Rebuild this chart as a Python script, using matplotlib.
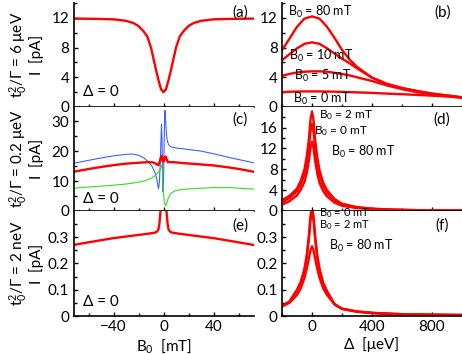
import matplotlib
matplotlib.use("Agg")
import matplotlib.pyplot as plt
from matplotlib.ticker import MultipleLocator

plt.rcParams["font.family"] = ["Lato", "DejaVu Sans"]
plt.rcParams["mathtext.fontset"] = "custom"
plt.rcParams["mathtext.rm"] = "Lato"
plt.rcParams["mathtext.it"] = "Lato"
plt.rcParams["font.size"] = 11

RED = "#ff0000"
BLUE = "#4060ff"
GREEN = "#33dd22"

# ---- left column: I vs B0 [mT], Delta = 0 ----
b_a = [-72, -60, -50, -40, -30, -24, -20, -16, -13, -10, -8, -6, -4, -2, 0,
       2, 4, 6, 8, 10, 13, 16, 20, 24, 30, 40, 50, 60, 72]
i_a = [11.9, 11.88, 11.85, 11.8, 11.6, 11.3, 10.9, 10.2, 9.5, 8.0, 6.5, 5.0, 3.6, 2.4, 2.0,
       2.4, 3.6, 5.0, 6.5, 8.0, 9.5, 10.2, 10.9, 11.3, 11.6, 11.8, 11.85, 11.88, 11.9]

b_c_blue = [-72, -60, -50, -40, -30, -25, -20, -16, -12, -9, -7, -5.5, -4.5, -4, -3.3, -2.6, -2,
            -1.6, -1.2, -0.8, -0.4, 0, 0.4, 0.8, 1.2, 1.7, 2.3, 3, 4, 5.5, 7, 10, 15, 20, 30,
            40, 53, 62, 72]
i_c_blue = [15.9, 16.9, 17.7, 18.4, 18.9, 19.0, 18.6, 17.8, 16.4, 14.8, 13.0, 11.0, 8.5, 7.4, 9.5,
            16, 24, 29.0, 24, 12, 6.5, 9, 20, 29, 33.5, 30, 26, 23.5, 22.2, 21.5, 21.3, 21.0,
            20.8, 20.5, 20.0, 19.1, 17.8, 17.0, 16.1]

b_c_red = [-72, -60, -50, -40, -30, -20, -12, -8, -5, -4, -3, -2, -1.5, -1, -0.5, 0, 0.5, 1,
           1.7, 2.5, 3.5, 5, 8, 15, 25, 40, 53, 62, 72]
i_c_red = [13.1, 14.0, 14.7, 15.3, 15.8, 16.1, 16.3, 16.2, 15.5, 15.3, 16.5, 18.0, 18.4, 17.8,
           16.8, 16.5, 17.0, 17.8, 18.2, 17.3, 16.3, 16.3, 16.3, 16.0, 15.7, 15.2, 14.5, 13.9, 13.1]

b_c_green = [-72, -60, -50, -40, -30, -20, -15, -10, -7, -5, -3.5, -2.5, -1.8, -1.2, -0.8, -0.4,
             0, 0.5, 1, 1.5, 2, 3, 4, 6, 9, 15, 25, 40, 53, 72]
i_c_green = [7.6, 8.0, 8.3, 8.6, 9.0, 9.6, 10.1, 10.9, 11.7, 12.5, 13.4, 14.2, 15.0, 15.3, 13, 9,
             6, 3.5, 2.3, 1.9, 1.9, 3.2, 4.5, 5.9, 6.7, 7.2, 7.5, 7.8, 7.8, 7.3]

b_e = [-72, -60, -50, -40, -30, -20, -12, -8, -6, -5, -4, -3.3, -2.7, -2, -1, 0,
       1, 2, 2.7, 3.3, 4, 5, 6, 8, 12, 20, 30, 40, 50, 60, 72]
i_e = [0.270, 0.280, 0.288, 0.296, 0.302, 0.308, 0.313, 0.316, 0.318, 0.322, 0.330, 0.350,
       0.380, 0.420, 0.460, 0.480, 0.460, 0.420, 0.380, 0.350, 0.330, 0.322, 0.318, 0.316,
       0.313, 0.308, 0.302, 0.296, 0.288, 0.280, 0.270]

# ---- right column: I vs Delta [ueV] ----
d_b = [-200, -150, -100, -50, 0, 50, 100, 150, 200, 250, 300, 400, 500, 600, 700, 800, 900, 1000]
i_b_80 = [7.65, 9.2, 10.8, 11.9, 12.2, 11.9, 10.8, 9.3, 7.7, 6.4, 5.4, 3.95, 3.1, 2.55, 2.15, 1.8, 1.55, 1.3]
i_b_10 = [6.3, 7.1, 7.9, 8.5, 8.7, 8.5, 7.9, 7.2, 6.5, 5.9, 5.2, 3.95, 3.1, 2.55, 2.15, 1.8, 1.55, 1.3]
i_b_5 = [4.2, 4.45, 4.65, 4.75, 4.8, 4.8, 4.75, 4.6, 4.45, 4.25, 4.0, 3.5, 2.9, 2.4, 2.0, 1.7, 1.45, 1.25]
i_b_0 = [2.0, 2.05, 2.08, 2.1, 2.1, 2.1, 2.08, 2.06, 2.03, 2.0, 1.97, 1.9, 1.8, 1.72, 1.63, 1.53, 1.42, 1.28]

d_df = [-200, -150, -100, -75, -50, -35, -20, -10, 0, 10, 20, 35, 50, 75, 100, 150, 200,
        300, 400, 500, 600, 800, 1000]
i_d_2 = [2.1, 2.9, 4.3, 5.8, 8.0, 10.5, 14.0, 17.5, 19.1, 17.5, 14.0, 10.3, 7.8, 5.4, 4.0, 2.3,
         1.4, 0.75, 0.45, 0.3, 0.22, 0.12, 0.08]
i_d_0 = [1.7, 2.5, 3.8, 5.1, 7.0, 9.2, 12.3, 15.3, 16.7, 15.3, 12.3, 9.0, 6.8, 4.7, 3.5, 2.0,
         1.25, 0.68, 0.42, 0.28, 0.2, 0.12, 0.08]
i_d_80 = [1.2, 1.9, 3.0, 4.1, 5.6, 7.3, 9.8, 12.2, 13.3, 12.2, 9.8, 7.2, 5.4, 3.8, 2.8, 1.6,
          1.0, 0.55, 0.35, 0.25, 0.18, 0.1, 0.07]

i_f_0 = [0.039, 0.055, 0.1, 0.13, 0.18, 0.23, 0.31, 0.38, 0.415, 0.38, 0.31, 0.23, 0.18, 0.125,
         0.095, 0.045, 0.028, 0.017, 0.012, 0.009, 0.007, 0.005, 0.004]
i_f_2 = [0.038, 0.054, 0.097, 0.126, 0.174, 0.222, 0.298, 0.366, 0.40, 0.366, 0.298, 0.222,
         0.174, 0.121, 0.092, 0.044, 0.027, 0.017, 0.012, 0.009, 0.007, 0.005, 0.004]
i_f_80 = [0.036, 0.05, 0.08, 0.105, 0.145, 0.18, 0.22, 0.25, 0.265, 0.25, 0.22, 0.18, 0.145,
          0.105, 0.08, 0.045, 0.027, 0.016, 0.011, 0.008, 0.006, 0.004, 0.003]

fig = plt.figure(figsize=(4.62, 3.54), dpi=100)
W, H = 462.0, 354.0
rows = [(3, 107), (107, 211), (211, 316)]
cols = [(73.5, 253.5), (282, 462)]
axes = {}
for r, (yt, yb) in enumerate(rows):
    for c, (xl, xr) in enumerate(cols):
        axes[(r, c)] = fig.add_axes([xl / W, 1 - yb / H, (xr - xl) / W, (yb - yt) / H])

lw_r = 1.7
ylims = {(0, 0): (0, 14), (1, 0): (0, 34.7), (2, 0): (0, 0.399),
         (0, 1): (0, 14), (1, 1): (0, 19.95), (2, 1): (0, 0.399)}
ymaj = {(0, 0): 4, (1, 0): 10, (2, 0): 0.1, (0, 1): 4, (1, 1): 4, (2, 1): 0.1}

for key, ax in axes.items():
    r, c = key
    for s in ["top", "right"]:
        ax.spines[s].set_visible(False)
    for s in ["left", "bottom"]:
        ax.spines[s].set_linewidth(1.2)
    ax.set_ylim(*ylims[key])
    ax.yaxis.set_major_locator(MultipleLocator(ymaj[key]))
    ax.yaxis.set_minor_locator(MultipleLocator(ymaj[key] / 2))
    if c == 0:
        ax.set_xlim(-72, 72)
        ax.xaxis.set_major_locator(MultipleLocator(40))
        ax.xaxis.set_minor_locator(MultipleLocator(20))
    else:
        ax.set_xlim(-200, 1000)
        ax.xaxis.set_major_locator(MultipleLocator(400))
        ax.xaxis.set_minor_locator(MultipleLocator(200))
    ax.tick_params(which="both", direction="in", width=1, labelsize=11, pad=3)
    ax.tick_params(which="major", length=3)
    ax.tick_params(which="minor", length=2)
    if r < 2:
        ax.tick_params(axis="x", labelbottom=False)
    ax.yaxis.set_major_formatter(plt.FuncFormatter(lambda v, p: ("%g" % round(v, 3))))

# left column
ax = axes[(0, 0)]
ax.plot(b_a, i_a, color=RED, lw=lw_r)
ax = axes[(1, 0)]
ax.plot(b_c_blue, i_c_blue, color=BLUE, lw=0.8)
ax.plot(b_c_green, i_c_green, color=GREEN, lw=0.8)
ax.plot(b_c_red, i_c_red, color=RED, lw=lw_r)
ax = axes[(2, 0)]
ax.plot(b_e, i_e, color=RED, lw=lw_r)

# right column
ax = axes[(0, 1)]
for y in [i_b_80, i_b_10, i_b_5, i_b_0]:
    ax.plot(d_b, y, color=RED, lw=lw_r)
ax = axes[(1, 1)]
for y in [i_d_2, i_d_0, i_d_80]:
    ax.plot(d_df, y, color=RED, lw=lw_r)
ax = axes[(2, 1)]
for y in [i_f_0, i_f_2, i_f_80]:
    ax.plot(d_df, y, color=RED, lw=lw_r)

# annotations
fs_a = 9
ax = axes[(0, 1)]
ax.text(-160, 12.8, "B$_0$ = 80 mT", fontsize=fs_a, va="center")
ax.text(-153, 6.9, "B$_0$ = 10 mT", fontsize=fs_a, va="center")
ax.text(-120, 4.2, "B$_0$ = 5 mT", fontsize=fs_a, va="center")
ax.text(-127, 1.1, "B$_0$ = 0 mT", fontsize=fs_a, va="center")
ax = axes[(1, 1)]
ax.text(47, 18.4, "B$_0$ = 2 mT", fontsize=8.5, va="center")
ax.text(13, 15.4, "B$_0$ = 0 mT", fontsize=8.5, va="center")
ax.text(127, 11.3, "B$_0$ = 80 mT", fontsize=fs_a, va="center")
ax = axes[(2, 1)]
ax.text(47, 0.391, "B$_0$ = 0 mT", fontsize=8, va="center")
ax.text(47, 0.344, "B$_0$ = 2 mT", fontsize=8, va="center")
ax.text(113, 0.266, "B$_0$ = 80 mT", fontsize=fs_a, va="center")

labels = {(0, 0): "(a)", (0, 1): "(b)", (1, 0): "(c)", (1, 1): "(d)", (2, 0): "(e)", (2, 1): "(f)"}
for key, lab in labels.items():
    xa = 0.925 if key[1] == 0 else 0.89
    ya = [0.91, 0.875, 0.86][key[0]]
    axes[key].text(xa, ya, lab, transform=axes[key].transAxes, ha="center", va="center", fontsize=11)

for r, ya in enumerate([0.14, 0.12, 0.13]):
    axes[(r, 0)].text(0.053, ya, "Δ = 0", transform=axes[(r, 0)].transAxes,
                      ha="left", va="center", fontsize=11)

ylabs = ["t$_0^2$/Γ = 6 μeV\nI  [pA]", "t$_0^2$/Γ = 0.2 μeV\nI  [pA]", "t$_0^2$/Γ = 2 neV\nI  [pA]"]
for r, lab in enumerate(ylabs):
    ax = axes[(r, 0)]
    ax.set_ylabel(lab, fontsize=11, linespacing=1.0)
    ax.yaxis.set_label_coords(-0.165, 0.5)

axes[(2, 0)].set_xlabel("B$_0$  [mT]", fontsize=11, labelpad=2)
axes[(2, 1)].set_xlabel("Δ  [μeV]", fontsize=11, labelpad=2)

fig.savefig("out.png", dpi=100)
